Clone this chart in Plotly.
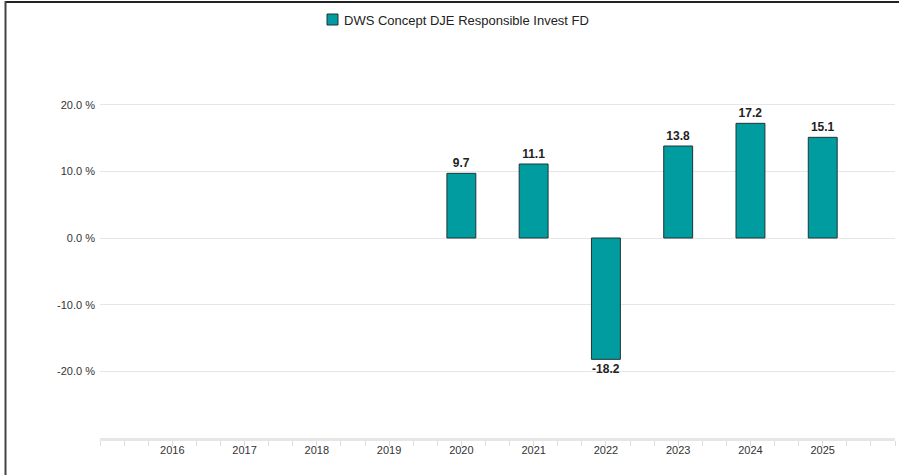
import plotly.graph_objects as go

years = [2020, 2021, 2022, 2023, 2024, 2025]
values = [9.7, 11.1, -18.2, 13.8, 17.2, 15.1]
tick_years = [2016, 2017, 2018, 2019, 2020, 2021, 2022, 2023, 2024, 2025]
y_ticks = [-30, -20, -10, 0, 10, 20, 30]
y_labels = ["", "-20.0 %", "-10.0 %", "0.0 %", "10.0 %", "20.0 %", ""]
series_name = "DWS Concept DJE Responsible Invest FD"

W, H = 899, 475
L, R, T, B = 100, 4, 38, 37
pw = W - L - R
ph = H - T - B

BAR_COLOR = "#009ca0"
EDGE_COLOR = "#1e3535"


def px_x(p):
    return (p - L) / pw


def px_y(p):
    return 1 - (p - T) / ph


fig = go.Figure()
fig.add_trace(go.Bar(
    x=years, y=values, name=series_name,
    width=0.4,
    marker=dict(color=BAR_COLOR, line=dict(color=EDGE_COLOR, width=1)),
    text=[f"{v:.1f}" for v in values],
    textposition="outside",
    textfont=dict(family="Liberation Sans, Arial", size=12, color="#222222", weight=600),
    cliponaxis=False,
    showlegend=False,
))

fig.update_layout(
    width=W, height=H,
    margin=dict(l=L, r=R, t=T, b=B),
    paper_bgcolor="white", plot_bgcolor="white",
    font=dict(family="Liberation Sans, Arial", size=11, color="#333333"),
    showlegend=False,
    xaxis=dict(range=[2015, 2026], tickvals=tick_years,
               ticktext=[str(y) for y in tick_years],
               showgrid=False, zeroline=False,
               showline=True, linecolor="#e6e6e6", linewidth=3,
               ticks="", ticklen=0,
               minor=dict(dtick=1/3, tick0=2015, ticks="outside", ticklen=5,
                          tickcolor="#dddddd", tickwidth=1, showgrid=False),
               tickfont=dict(size=11, color="#333333"),
               fixedrange=True),
    yaxis=dict(range=[-30, 30], tickvals=y_ticks, ticktext=y_labels,
               showgrid=True, gridcolor="#e6e6e6", gridwidth=1,
               zeroline=False, showline=False, ticks="", ticklabelstandoff=4,
               tickfont=dict(size=11, color="#333333")),
)

# manual legend
fig.add_shape(type="rect", xref="paper", yref="paper",
              x0=px_x(327), x1=px_x(338), y0=px_y(25), y1=px_y(14),
              fillcolor=BAR_COLOR, line=dict(color=EDGE_COLOR, width=1))
fig.add_annotation(xref="paper", yref="paper", x=px_x(342), y=px_y(20),
                   xanchor="left", yanchor="middle", showarrow=False,
                   text=series_name,
                   font=dict(family="Liberation Sans, Arial", size=13, color="#222222"))

# frame lines (top and left)
fig.add_shape(type="line", xref="paper", yref="paper",
              x0=px_x(5), x1=px_x(W + 2),
              y0=px_y(2), y1=px_y(2),
              line=dict(color="#222222", width=2))
fig.add_shape(type="line", xref="paper", yref="paper",
              x0=px_x(5.5), x1=px_x(5.5),
              y0=px_y(H + 2), y1=px_y(1),
              line=dict(color="#444444", width=2))

fig.write_html("out.html", config={"displayModeBar": False},
               post_script="document.body.style.margin='0';document.body.style.overflow='hidden';")
